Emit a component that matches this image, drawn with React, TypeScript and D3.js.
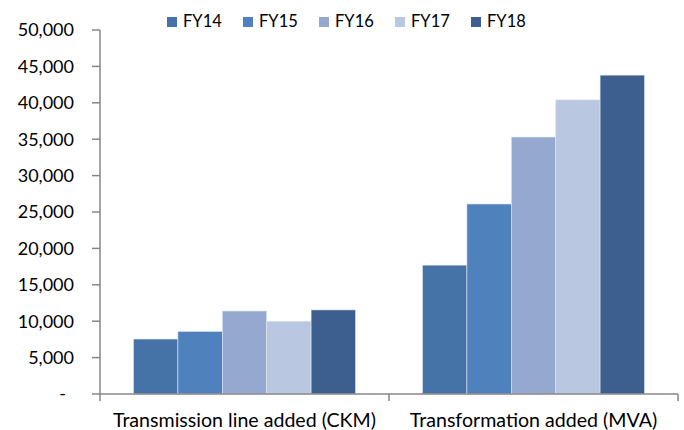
import React from "react";
import * as d3 from "d3";

const categories = ["Transmission line added (CKM)", "Transformation added (MVA)"];
const years = ["FY14", "FY15", "FY16", "FY17", "FY18"];
const fy14 = [7550, 17700];
const fy15 = [8600, 26100];
const fy16 = [11400, 35300];
const fy17 = [10000, 40400];
const fy18 = [11550, 43800];
const seriesValues = [fy14, fy15, fy16, fy17, fy18];
const yTicks = [0, 5000, 10000, 15000, 20000, 25000, 30000, 35000, 40000, 45000, 50000];
const colors = ["#4572a7", "#4f81bd", "#95a9d0", "#bac7e0", "#3c5f8f"];

const W = 684;
const H = 430;
const left = 100;
const right = 678;
const top = 30;
const bottom = 394;
const font = "Lato, 'Open Sans', sans-serif";
const axisColor = "#878787";

export default function App() {
  const x = d3.scaleBand<string>().domain(categories).range([left, right]).paddingInner(0).paddingOuter(0);
  const y = d3.scaleLinear().domain([0, 50000]).range([bottom, top]);
  const inner = d3
    .scaleBand<string>()
    .domain(years)
    .range([0, x.bandwidth()])
    .paddingOuter(0.755)
    .paddingInner(0);
  const fmt = d3.format(",");

  return (
    <svg
      width={W}
      height={H}
      style={{ position: "absolute", left: 0, top: 0, background: "#fff" }}
      fontFamily={font}
    >
      {/* legend */}
      {years.map((yr, i) => (
        <g key={yr} transform={`translate(${167 + i * 76},17)`}>
          <rect width={10} height={10} fill={colors[i]} />
          <text x={16} y={10} fontSize={16.5} fill="#000">
            {yr}
          </text>
        </g>
      ))}

      {/* bars */}
      {categories.map((cat, ci) => (
        <g key={cat} transform={`translate(${x(cat)},0)`}>
          {years.map((yr, si) => {
            const v = seriesValues[si][ci];
            return (
              <rect
                key={yr}
                x={inner(yr)}
                y={y(v)}
                width={inner.bandwidth()}
                height={y(0) - y(v)}
                fill={colors[si]}
                stroke="#dfe6f0"
                strokeWidth={0.6}
              />
            );
          })}
        </g>
      ))}

      {/* y axis */}
      <line x1={left} x2={left} y1={top} y2={bottom} stroke={axisColor} strokeWidth={1.5} />
      {yTicks.map((t) => (
        <g key={t}>
          <line x1={left - 8} x2={left} y1={y(t)} y2={y(t)} stroke={axisColor} strokeWidth={1.5} />
          <text
            x={t === 0 ? 66 : 74}
            y={y(t)}
            dy="0.36em"
            textAnchor="end"
            fontSize={18}
            fill="#000"
          >
            {t === 0 ? "-" : fmt(t)}
          </text>
        </g>
      ))}

      {/* x axis */}
      <line x1={left} x2={right} y1={bottom} y2={bottom} stroke={axisColor} strokeWidth={1.5} />
      {[left, ...categories.map((c) => (x(c) as number) + x.bandwidth())].map((px) => (
        <line key={px} x1={px} x2={px} y1={bottom} y2={bottom + 7} stroke={axisColor} strokeWidth={1.5} />
      ))}
      {categories.map((cat) => (
        <text
          key={cat}
          x={(x(cat) as number) + x.bandwidth() / 2}
          y={426.5}
          textAnchor="middle"
          fontSize={19.6}
          fill="#000"
        >
          {cat}
        </text>
      ))}
    </svg>
  );
}
